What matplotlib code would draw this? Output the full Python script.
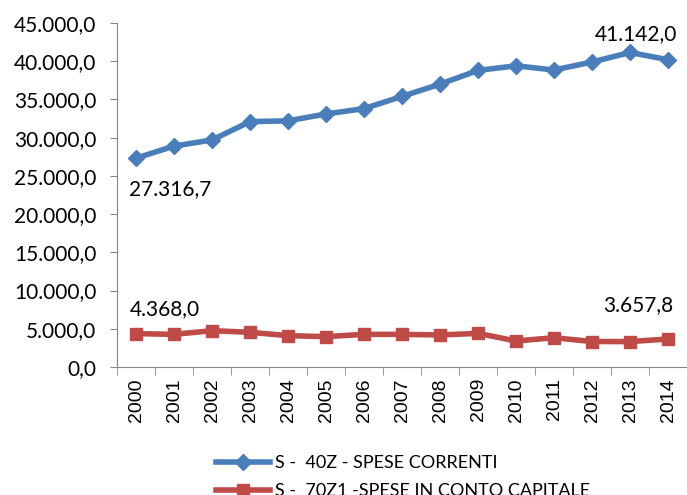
import numpy as np
import matplotlib
matplotlib.use("Agg")
import matplotlib.pyplot as plt

plt.rcParams['font.family'] = ['Lato', 'DejaVu Sans']

# data (migliaia)
anni = ['2000', '2001', '2002', '2003', '2004', '2005', '2006', '2007',
        '2008', '2009', '2010', '2011', '2012', '2013', '2014']
spese_correnti = [27316.7, 28900, 29700, 32100, 32200, 33100, 33800, 35400,
                  37000, 38800, 39400, 38850, 39900, 41142.0, 40200]
spese_capitale = [4368.0, 4270, 4750, 4540, 4100, 3970, 4270, 4270,
                  4190, 4400, 3400, 3830, 3330, 3330, 3657.8]
nome_correnti = 'S -  40Z - SPESE CORRENTI'
nome_capitale = 'S -  70Z1 -SPESE IN CONTO CAPITALE'

blu = '#4A7EBB'
rosso = '#BE4B48'


def fmt_it(v):
    # 12345.6 -> 12.345,6
    s = '{:,.1f}'.format(v)
    return s.replace(',', 'X').replace('.', ',').replace('X', '.')


fig = plt.figure(figsize=(6.87, 4.95), dpi=100)
# plot area runs right up to the right edge like in the original
ax = fig.add_axes([117 / 687, 1 - 367 / 495, (687 - 117) / 687, (367 - 23) / 495])

x = np.arange(len(anni))
ax.plot(x, spese_correnti, color=blu, lw=4, marker='D', ms=8.5, label=nome_correnti)
ax.plot(x, spese_capitale, color=rosso, lw=4, marker='s', ms=9, label=nome_capitale)

ax.set_ylim(0, 45000)
ax.set_xlim(-0.5, len(anni) - 0.5)
ax.set_yticks(np.arange(0, 45001, 5000))
ax.set_yticklabels([fmt_it(v) for v in np.arange(0, 45001, 5000)], fontsize=15)
ax.set_xticks(x)
ax.set_xticklabels(anni, rotation=90, fontsize=14, family=['Liberation Sans', 'DejaVu Sans'])
ax.set_xticks(np.arange(-0.5, len(anni), 1), minor=True)
ax.tick_params(axis='x', which='major', length=0, pad=8)
ax.tick_params(axis='x', which='minor', length=6, color='#868686')
ax.tick_params(axis='y', length=5, color='#868686', pad=10)

for side in ['top', 'right']:
    ax.spines[side].set_visible(False)
for side in ['left', 'bottom']:
    ax.spines[side].set_color('#868686')

# data labels at the first point and at the max / last
ax.annotate(fmt_it(spese_correnti[0]), (x[0], spese_correnti[0]), xytext=(-5, -22),
            textcoords='offset points', fontsize=15, ha='left', va='center')
ax.annotate(fmt_it(spese_correnti[13]), (x[13], spese_correnti[13]), xytext=(4, 13),
            textcoords='offset points', fontsize=15, ha='center', va='center')
ax.annotate(fmt_it(spese_capitale[0]), (x[0], spese_capitale[0]), xytext=(-4.5, 17.5),
            textcoords='offset points', fontsize=15, ha='left', va='center')
ax.annotate(fmt_it(spese_capitale[-1]), (x[-1], spese_capitale[-1]), xytext=(3.5, 24.5),
            textcoords='offset points', fontsize=15, ha='right', va='center')

fig.legend(loc='upper left', bbox_to_anchor=(216 / 687, 1 - 455 / 495), frameon=False,
           fontsize=13, handlelength=3.0, handletextpad=0.25, labelspacing=0.68,
           borderpad=0, borderaxespad=0)

fig.savefig('out.png', dpi=100)
